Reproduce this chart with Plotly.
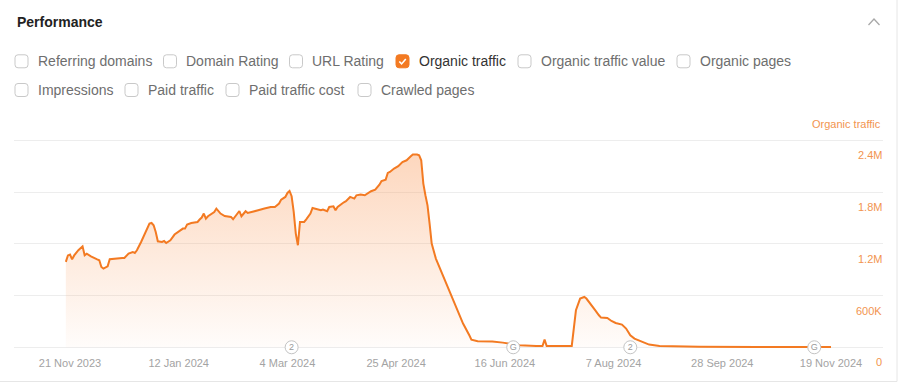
import plotly.graph_objects as go

# ---------------- data ----------------
dates = [
    "2023-11-19", "2023-11-20", "2023-11-21", "2023-11-22", "2023-11-23", "2023-11-25",
    "2023-11-27", "2023-11-28", "2023-11-29", "2023-12-01", "2023-12-04", "2023-12-05",
    "2023-12-06", "2023-12-07", "2023-12-09", "2023-12-10", "2023-12-16", "2023-12-17",
    "2023-12-19", "2023-12-21", "2023-12-22", "2023-12-23", "2023-12-25", "2023-12-27",
    "2023-12-29", "2023-12-30", "2023-12-31", "2024-01-01", "2024-01-02", "2024-01-04",
    "2024-01-05", "2024-01-06", "2024-01-08", "2024-01-10", "2024-01-12", "2024-01-14",
    "2024-01-15", "2024-01-16", "2024-01-18", "2024-01-21", "2024-01-22", "2024-01-23",
    "2024-01-24", "2024-01-25", "2024-01-26", "2024-01-28", "2024-01-29", "2024-01-30",
    "2024-02-01", "2024-02-03", "2024-02-06", "2024-02-07", "2024-02-09", "2024-02-10",
    "2024-02-11", "2024-02-13", "2024-02-14", "2024-02-17", "2024-02-19", "2024-02-22",
    "2024-02-25", "2024-02-27", "2024-02-29", "2024-03-01", "2024-03-03", "2024-03-04",
    "2024-03-05", "2024-03-06", "2024-03-07", "2024-03-08", "2024-03-09", "2024-03-10",
    "2024-03-12", "2024-03-13", "2024-03-15", "2024-03-16", "2024-03-18", "2024-03-20",
    "2024-03-21", "2024-03-23", "2024-03-24", "2024-03-26", "2024-03-27", "2024-03-28",
    "2024-03-31", "2024-04-01", "2024-04-03", "2024-04-05", "2024-04-06", "2024-04-08",
    "2024-04-10", "2024-04-13", "2024-04-15", "2024-04-17", "2024-04-18", "2024-04-20",
    "2024-04-21", "2024-04-22", "2024-04-24", "2024-04-26", "2024-04-28", "2024-04-30",
    "2024-05-02", "2024-05-03", "2024-05-05", "2024-05-06", "2024-05-07", "2024-05-08",
    "2024-05-09", "2024-05-10", "2024-05-11", "2024-05-12", "2024-05-14", "2024-05-16",
    "2024-05-18", "2024-05-21", "2024-05-24", "2024-05-27", "2024-05-30", "2024-05-31",
    "2024-06-03", "2024-06-10", "2024-06-15", "2024-06-23", "2024-07-01", "2024-07-04",
    "2024-07-05", "2024-07-06", "2024-07-18", "2024-07-19", "2024-07-20", "2024-07-22",
    "2024-07-24", "2024-07-25", "2024-07-27", "2024-07-29", "2024-07-31", "2024-08-01",
    "2024-08-04", "2024-08-06", "2024-08-08", "2024-08-11", "2024-08-13", "2024-08-15",
    "2024-08-17", "2024-08-21", "2024-08-24", "2024-08-29", "2024-09-03", "2024-09-17",
    "2024-10-15", "2024-11-19",
]
organic_traffic_k = [
    990, 1065, 1075, 1020, 1065, 1125,
    1170, 1067, 1086, 1055, 1020, 1009,
    931, 912, 939, 1020, 1035, 1035,
    1086, 1105, 1093, 1125, 1221, 1318,
    1434, 1441, 1414, 1337, 1229, 1221,
    1232, 1209, 1241, 1307, 1345, 1376,
    1376, 1423, 1441, 1453, 1481, 1504,
    1550, 1492, 1519, 1550, 1569, 1608,
    1550, 1522, 1511, 1484, 1542, 1580,
    1519, 1577, 1557, 1580, 1588, 1608,
    1627, 1627, 1666, 1712, 1743, 1789,
    1812, 1751, 1569, 1318, 1183, 1453,
    1453, 1484, 1550, 1615, 1597, 1588,
    1597, 1577, 1627, 1635, 1588, 1627,
    1681, 1693, 1743, 1724, 1762, 1770,
    1762, 1809, 1828, 1885, 1928, 1944,
    2021, 2032, 2072, 2099, 2148, 2168,
    2214, 2234, 2234, 2226, 2168, 1898,
    1762, 1646, 1434, 1202, 1028, 912,
    815, 623, 449, 275, 139, 89,
    70, 66, 54, 23, 15, 15,
    89, 15, 15, 197, 429, 565,
    583, 565, 507, 437, 371, 344,
    340, 305, 282, 263, 217, 139,
    101, 61, 31, 15, 12, 5,
    4, 4,
]
organic_traffic = [v * 1000 for v in organic_traffic_k]

event_dates = ["2024-03-06", "2024-06-20", "2024-08-15", "2024-11-11"]
event_labels = ["2", "G", "2", "G"]

x_tick_dates = ["2023-11-21", "2024-01-12", "2024-03-04", "2024-04-25",
                "2024-06-16", "2024-08-07", "2024-09-28", "2024-11-19"]
x_tick_text = ["21 Nov 2023", "12 Jan 2024", "4 Mar 2024", "25 Apr 2024",
               "16 Jun 2024", "7 Aug 2024", "28 Sep 2024", "19 Nov 2024"]
y_tick_vals = [0, 600000, 1200000, 1800000, 2400000]
y_tick_text = ["0", "600K", "1.2M", "1.8M", "2.4M"]

metric_rows = [
    ["Referring domains", "Domain Rating", "URL Rating", "Organic traffic",
     "Organic traffic value", "Organic pages"],
    ["Impressions", "Paid traffic", "Paid traffic cost", "Crawled pages"],
]
checked_metric = "Organic traffic"

# ---------------- layout helpers ----------------
W, H = 901, 385
ML, MR, MT, MB = 14, 18, 114, 36
PW, PH = W - ML - MR, H - MT - MB
FONT = "Liberation Sans, Arial, Helvetica, sans-serif"
ORANGE = "#f37a22"
LABEL_ORANGE = "#f2944f"


def px(X):
    return (X - ML) / PW


def py(Y):
    return 1 - (Y - MT) / PH


def rrect(x0, y0, x1, y1, r):
    return (f"M {px(x0 + r)},{py(y0)} L {px(x1 - r)},{py(y0)} "
            f"Q {px(x1)},{py(y0)} {px(x1)},{py(y0 + r)} L {px(x1)},{py(y1 - r)} "
            f"Q {px(x1)},{py(y1)} {px(x1 - r)},{py(y1)} L {px(x0 + r)},{py(y1)} "
            f"Q {px(x0)},{py(y1)} {px(x0)},{py(y1 - r)} L {px(x0)},{py(y0 + r)} "
            f"Q {px(x0)},{py(y0)} {px(x0 + r)},{py(y0)} Z")


# checkbox left-edge positions (pixels) and row centres
box_x = [[15, 163.5, 289.5, 396, 518, 677], [15, 125, 226, 358]]
row_y = [61.3, 90]

fig = go.Figure()

fig.add_trace(go.Scatter(
    x=dates, y=organic_traffic, mode="lines",
    line=dict(color=ORANGE, width=2),
    fill="tozeroy",
    fillgradient=dict(type="vertical",
                      colorscale=[[0, "rgba(250,160,100,0.03)"], [1, "rgba(250,160,100,0.42)"]],
                      start=0, stop=max(organic_traffic)),
    hoverinfo="skip", showlegend=False,
))

fig.add_trace(go.Scatter(
    x=event_dates, y=[0] * len(event_dates), mode="markers+text",
    text=event_labels, textposition="middle center",
    textfont=dict(family=FONT, size=9, color="#9a9a9a"),
    marker=dict(size=13, color="white", line=dict(color="#c4c4c4", width=1)),
    cliponaxis=False, hoverinfo="skip", showlegend=False,
))

shapes = []
annotations = []

# header
annotations.append(dict(xref="paper", yref="paper", x=px(15), y=py(22.5),
                        xanchor="left", yanchor="middle", showarrow=False,
                        text="<b>Performance</b>",
                        font=dict(family=FONT, size=14, color="#222222")))
shapes.append(dict(type="path", xref="paper", yref="paper",
                   path=f"M {px(868.5)},{py(25)} L {px(874)},{py(19)} L {px(879.5)},{py(25)}",
                   line=dict(color="#a8a8a8", width=1.3)))

# metric checkboxes
for r, names in enumerate(metric_rows):
    for i, name in enumerate(names):
        x0 = box_x[r][i]
        yc = row_y[r]
        checked = name == checked_metric
        shapes.append(dict(type="path", xref="paper", yref="paper",
                           path=rrect(x0, yc - 6.5, x0 + 13, yc + 6.5, 3),
                           fillcolor=ORANGE if checked else "white",
                           line=dict(color=ORANGE if checked else "#c9c9c9", width=1)))
        if checked:
            shapes.append(dict(type="path", xref="paper", yref="paper",
                               path=(f"M {px(x0 + 3.3)},{py(yc + 0.2)} L {px(x0 + 5.6)},{py(yc + 2.6)} "
                                     f"L {px(x0 + 9.8)},{py(yc - 2.4)}"),
                               line=dict(color="white", width=1.6)))
        annotations.append(dict(xref="paper", yref="paper", x=px(x0 + 20.5), y=py(yc),
                                xanchor="left", yanchor="middle", showarrow=False,
                                text=name,
                                font=dict(family=FONT, size=14,
                                          color="#333333" if checked else "#6e6e6e")))

# axis title on the right
annotations.append(dict(xref="paper", yref="paper", x=1, y=py(123.5),
                        xanchor="right", yanchor="middle", showarrow=False,
                        text="Organic traffic",
                        font=dict(family=FONT, size=11, color=LABEL_ORANGE)))

# y tick labels, placed just below their gridlines at the right edge
for val, txt in zip(y_tick_vals, y_tick_text):
    annotations.append(dict(xref="paper", yref="y", x=1, y=val, yshift=-15,
                            xanchor="right", yanchor="middle", showarrow=False,
                            text=txt, xshift=1,
                            font=dict(family=FONT, size=11, color=LABEL_ORANGE)))

# card borders
shapes.append(dict(type="line", xref="paper", yref="paper",
                   x0=px(-5), x1=px(897), y0=py(381.5), y1=py(381.5),
                   line=dict(color="#e6e6e6", width=1)))
shapes.append(dict(type="line", xref="paper", yref="paper",
                   x0=px(897), x1=px(897), y0=py(-5), y1=py(381.5),
                   line=dict(color="#e6e6e6", width=1)))

ymin = -20000
ymax = ymin + PH * 11594.2

fig.update_layout(
    width=W, height=H,
    margin=dict(l=ML, r=MR, t=MT, b=MB, pad=0),
    paper_bgcolor="white", plot_bgcolor="white",
    font=dict(family=FONT),
    shapes=shapes, annotations=annotations,
    xaxis=dict(range=["2023-10-25 05:00", "2024-12-13 21:00"], type="date",
               tickvals=x_tick_dates, ticktext=x_tick_text,
               showgrid=False, zeroline=False, showline=False, ticks="",
               ticklabelstandoff=6,
               tickfont=dict(family=FONT, size=11, color="#a3a3a3")),
    yaxis=dict(range=[ymin, ymax], side="right",
               tickvals=y_tick_vals, showticklabels=False,
               showgrid=True, gridcolor="#ededed", gridwidth=1,
               zeroline=False, showline=False, ticks=""),
)

fig.write_html("out.html")
